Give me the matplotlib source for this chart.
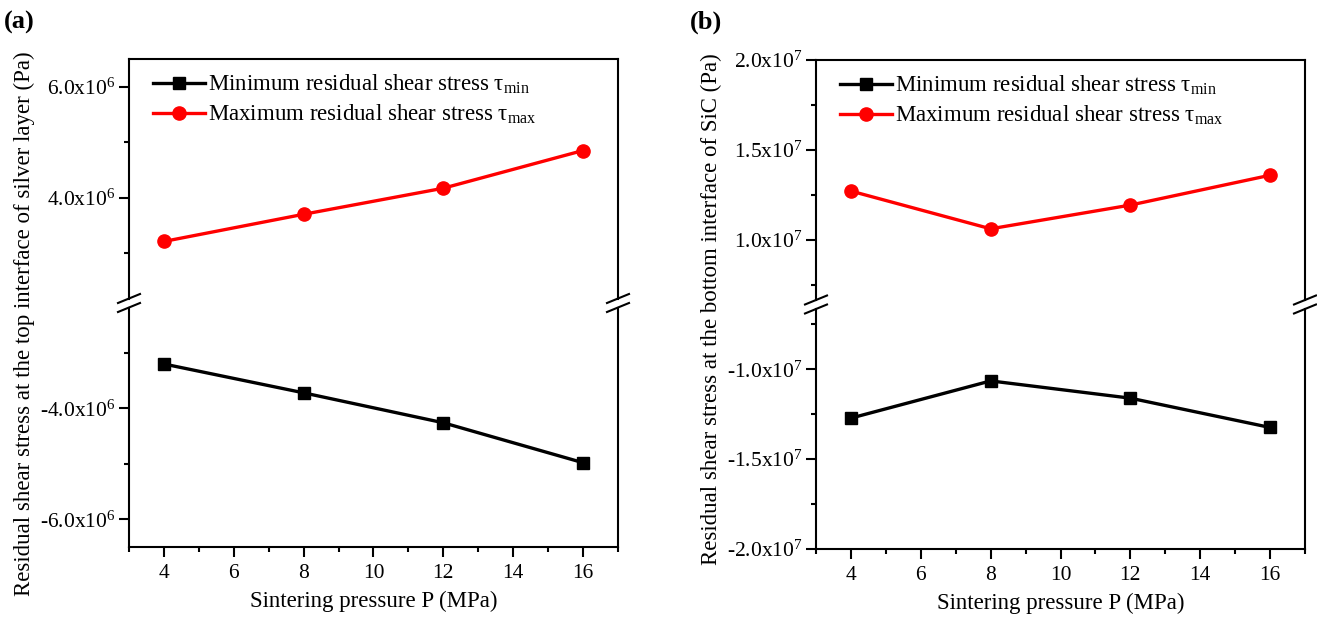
"""Residual shear stress vs sintering pressure, two panels with broken y axes."""

import matplotlib

matplotlib.use("Agg")
import matplotlib.pyplot as plt
from matplotlib.lines import Line2D
from matplotlib.ticker import FixedLocator, FixedFormatter, MultipleLocator

plt.rcParams["font.family"] = ["Liberation Serif", "DejaVu Serif"]
plt.rcParams["mathtext.default"] = "regular"

pressure = [4, 8, 12, 16]

# panel (a): top interface of silver layer
a_max = [3.21e6, 3.70e6, 4.17e6, 4.85e6]
a_min = [-3.20e6, -3.72e6, -4.26e6, -4.98e6]
a_top_lim = (2.1e6, 6.5e6)
a_bot_lim = (-6.5e6, -2.1e6)
a_top_ticks = [4.0e6, 6.0e6]
a_top_labels = ["4.0x10$^{6}$", "6.0x10$^{6}$"]
a_top_minor = [3.0e6, 5.0e6]
a_bot_ticks = [-6.0e6, -4.0e6]
a_bot_labels = ["-6.0x10$^{6}$", "-4.0x10$^{6}$"]
a_bot_minor = [-5.0e6, -3.0e6]

# panel (b): bottom interface of SiC
b_max = [1.271e7, 1.061e7, 1.193e7, 1.359e7]
b_min = [-1.272e7, -1.065e7, -1.161e7, -1.324e7]
b_top_lim = (6.4e6, 2.0e7)
b_bot_lim = (-2.0e7, -6.4e6)
b_top_ticks = [1.0e7, 1.5e7, 2.0e7]
b_top_labels = ["1.0x10$^{7}$", "1.5x10$^{7}$", "2.0x10$^{7}$"]
b_top_minor = [7.5e6, 1.25e7, 1.75e7]
b_bot_ticks = [-2.0e7, -1.5e7, -1.0e7]
b_bot_labels = ["-2.0x10$^{7}$", "-1.5x10$^{7}$", "-1.0x10$^{7}$"]
b_bot_minor = [-1.75e7, -1.25e7, -7.5e6]

x_ticks = [4, 6, 8, 10, 12, 14, 16]
min_label = r"Minimum residual shear stress τ$_{min}$"
max_label = r"Maximum residual shear stress τ$_{max}$"

W, H = 1317, 618
fig = plt.figure(figsize=(W / 100, H / 100), dpi=100)


def style(ax, ticks, labels, minor):
    for side in ("left", "right", "top", "bottom"):
        ax.spines[side].set_linewidth(1.5)
    ax.yaxis.set_major_locator(FixedLocator(ticks))
    ax.yaxis.set_major_formatter(FixedFormatter(labels))
    ax.yaxis.set_minor_locator(FixedLocator(minor))
    ax.tick_params(axis="both", which="major", direction="out", length=7, width=1.5,
                   labelsize=15.5, pad=3, right=False, top=False)
    ax.tick_params(axis="both", which="minor", direction="out", length=3.8, width=1.5,
                   right=False, top=False)
    ax.tick_params(axis="x", which="major", pad=5)


def panel(left_px, top_px, bottom_px, ymax, ymin, top_lim, bot_lim, top_t, bot_t, ylabel,
          tag, tag_x, ylabel_x, ylabel_y):
    left = left_px / W
    width = 489 / W
    y0 = 1 - bottom_px / H
    y1 = 1 - top_px / H
    mid = (y0 + y1) / 2
    ax_t = fig.add_axes([left, mid, width, y1 - mid])
    ax_b = fig.add_axes([left, y0, width, mid - y0])

    ax_t.plot(pressure, ymax, color="red", lw=2.4, marker="o", ms=9.5, label=max_label)
    ax_b.plot(pressure, ymin, color="black", lw=2.4, marker="s", ms=9, label=min_label)
    for ax in (ax_t, ax_b):
        ax.set_xlim(3, 17)
        ax.xaxis.set_major_locator(FixedLocator(x_ticks))
        ax.xaxis.set_minor_locator(MultipleLocator(1))
    ax_t.set_ylim(*top_lim)
    ax_b.set_ylim(*bot_lim)
    style(ax_t, *top_t)
    style(ax_b, *bot_t)
    ax_b.xaxis.set_minor_locator(FixedLocator([3, 5, 7, 9, 11, 13, 15, 17]))
    ax_t.tick_params(axis="x", which="both", bottom=False, labelbottom=False)
    ax_t.spines["bottom"].set_visible(False)
    ax_b.spines["top"].set_visible(False)

    # gap in the side spines at the break
    half_px = (bottom_px - top_px) / 2
    gap = 4.5 / half_px
    dt = (top_lim[1] - top_lim[0]) * gap
    db = (bot_lim[1] - bot_lim[0]) * gap
    for side in ("left", "right"):
        ax_t.spines[side].set_bounds(top_lim[0] + dt, top_lim[1])
        ax_b.spines[side].set_bounds(bot_lim[0], bot_lim[1] - db)

    brk_px = (top_px + bottom_px) / 2
    for sx in (left_px, left_px + 489):
        for off in (-4.5, 4.5):
            cy = 1 - (brk_px + off) / H
            fig.add_artist(Line2D([(sx - 11) / W, (sx + 11) / W],
                                  [cy - 4.5 / H, cy + 4.5 / H],
                                  color="black", lw=1.5))

    ax_b.set_xlabel("Sintering pressure P (MPa)", fontsize=16.5, labelpad=6)
    fig.text(ylabel_x / W, 1 - ylabel_y / H, ylabel, rotation=90, fontsize=16.5,
             ha="center", va="center")
    fig.text(tag_x / W, 1 - 22 / H, tag, fontsize=19, fontweight="bold",
             ha="left", va="center")

    handles = [ax_b.get_lines()[0], ax_t.get_lines()[0]]
    ax_t.legend(handles, [min_label, max_label], loc="upper left", frameon=False,
                fontsize=16.5, handlelength=2.3, handletextpad=0.1, labelspacing=0.3,
                borderaxespad=0.2, bbox_to_anchor=(0.02, 1.0), numpoints=1)


panel(129, 59, 547, a_max, a_min, a_top_lim, a_bot_lim,
      (a_top_ticks, a_top_labels, a_top_minor), (a_bot_ticks, a_bot_labels, a_bot_minor),
      "Residual shear stress at the top interface of silver layer (Pa)", "(a)", 4, 24, 324)
panel(816, 60, 549, b_max, b_min, b_top_lim, b_bot_lim,
      (b_top_ticks, b_top_labels, b_top_minor), (b_bot_ticks, b_bot_labels, b_bot_minor),
      "Residual shear stress at the bottom interface of SiC (Pa)", "(b)", 690, 711, 309)

fig.savefig("out.png", dpi=100)
